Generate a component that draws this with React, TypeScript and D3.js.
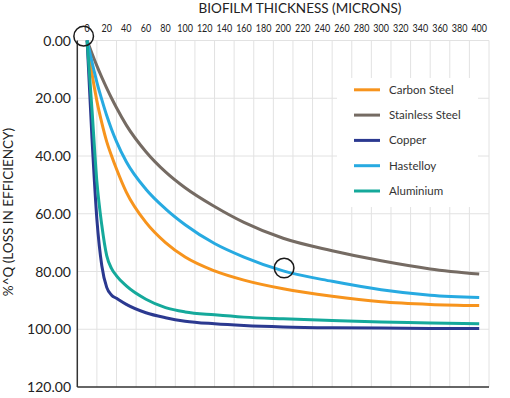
import React, {useEffect, useRef} from 'react'
import * as d3 from 'd3'

// biofilm thickness (microns), shared by every series
const thickness = [0, 5, 10, 15, 20, 25, 30, 40, 60, 80, 100, 130, 160, 200, 250, 300, 350, 400];

const carbonSteel    = [0, 11.5, 21, 28.5, 35, 40, 44.5, 52.5, 63, 70, 75, 79.8, 83, 86, 88.6, 90.5, 91.4, 91.8];
const stainlessSteel = [0, 4.5, 8.8, 12.8, 16.5, 20, 23.3, 29.3, 38.5, 45.5, 51, 57.5, 63, 68.5, 72.8, 76.3, 79.1, 80.9];
const copper         = [0, 34, 62, 78, 85.5, 88.2, 89.3, 91.4, 94.3, 96, 97.2, 98.1, 98.7, 99.2, 99.5, 99.6, 99.7, 99.7];
const hastelloy      = [0, 7.5, 14.5, 20.5, 26, 30.8, 35, 42, 51.5, 58.3, 63.8, 70.3, 75, 79.8, 83.4, 86.3, 88.2, 89];
const aluminium      = [0, 24, 49, 64, 74.5, 79, 81.5, 85, 89.6, 92.5, 94, 95, 95.8, 96.4, 97, 97.5, 97.8, 98.1];

const seriesNames  = ['Carbon Steel', 'Stainless Steel', 'Copper', 'Hastelloy', 'Aluminium'];
const seriesValues = [carbonSteel, stainlessSteel, copper, hastelloy, aluminium];
const seriesColors = ['#F7941D', '#756B63', '#2B3990', '#27AAE1', '#15A99B'];

const xTicks = d3.range(0, 401, 20);
const yTicks = [0, 20, 40, 60, 80, 100, 120];

// points picked out with a ring in the original
const marked = [{x: -3.5, y: -1.5}, {x: 201, y: 78.8}];

const W = 510, H = 398;
const FONT = 'Lato, Roboto, sans-serif';

export default function App() {
  const ref = useRef<SVGSVGElement>(null);

  useEffect(() => {
    const svg = d3.select(ref.current);
    svg.selectAll('*').remove();

    // labels sit between grid lines, like an excel category axis
    const x = d3.scaleLinear().domain([-10, 410]).range([77.3, 489]);
    const y = d3.scaleLinear().domain([0, 120]).range([40.5, 387]);

    const grid = svg.append('g').attr('stroke', '#e2e2e2').attr('stroke-width', 1);
    grid.selectAll('line.v')
      .data(d3.range(10, 411, 20))
      .join('line')
      .attr('class', 'v')
      .attr('x1', d => x(d)).attr('x2', d => x(d))
      .attr('y1', y(0)).attr('y2', y(120));
    grid.selectAll('line.h')
      .data(yTicks.slice(0, -1))
      .join('line')
      .attr('class', 'h')
      .attr('x1', x(-10)).attr('x2', x(410))
      .attr('y1', d => y(d)).attr('y2', d => y(d));

    // legend background hides the grid
    svg.append('rect')
      .attr('x', 337).attr('y', 78).attr('width', 141).attr('height', 129)
      .attr('fill', '#fff');

    // axes lines
    svg.append('line')
      .attr('x1', x(-10)).attr('x2', x(-10))
      .attr('y1', y(0)).attr('y2', y(120))
      .attr('stroke', '#333').attr('stroke-width', 1.5);
    svg.append('line')
      .attr('x1', x(-10)).attr('x2', x(410))
      .attr('y1', y(120)).attr('y2', y(120))
      .attr('stroke', '#333').attr('stroke-width', 1.5);

    // narrow digits so the labels keep a gap between them
    svg.append('g')
      .selectAll('text')
      .data(xTicks)
      .join('text')
      .attr('x', d => x(d))
      .attr('y', 32)
      .attr('text-anchor', 'middle')
      .attr('font-family', FONT)
      .attr('font-size', 11.2)
      .attr('fill', '#222')
      .attr('textLength', d => String(d).length * 5.2)
      .attr('lengthAdjust', 'spacingAndGlyphs')
      .text(d => d);

    svg.append('g')
      .selectAll('text')
      .data(yTicks)
      .join('text')
      .attr('x', 71)
      .attr('y', d => y(d) + 5)
      .attr('text-anchor', 'end')
      .attr('font-family', FONT)
      .attr('font-size', 14)
      .attr('fill', '#222')
      .text(d => d.toFixed(2));

    svg.append('text')
      .attr('x', 300).attr('y', 12.5)
      .attr('text-anchor', 'middle')
      .attr('font-family', FONT)
      .attr('font-size', 13.5)
      .attr('fill', '#222')
      .text('BIOFILM THICKNESS (MICRONS)');

    svg.append('text')
      .attr('transform', 'translate(13,' + 212 + ') rotate(-90)')
      .attr('text-anchor', 'middle')
      .attr('font-family', FONT)
      .attr('font-size', 13.5)
      .attr('fill', '#222')
      .text('%^Q (LOSS IN EFFICIENCY)');

    const line = d3.line<number>()
      .x((d, i) => x(thickness[i]))
      .y(d => y(d))
      .curve(d3.curveMonotoneX);

    svg.append('g')
      .selectAll('path')
      .data(seriesValues)
      .join('path')
      .attr('d', d => line(d))
      .attr('fill', 'none')
      .attr('stroke', (d, i) => seriesColors[i])
      .attr('stroke-width', 3);

    const legend = svg.append('g')
      .selectAll('g')
      .data(seriesNames)
      .join('g')
      .attr('transform', (d, i) => 'translate(354,' + (89.8 + i * 25.3) + ')');
    legend.append('line')
      .attr('x1', 0).attr('x2', 26)
      .attr('stroke', (d, i) => seriesColors[i])
      .attr('stroke-width', 3);
    legend.append('text')
      .attr('x', 35).attr('y', 4)
      .attr('font-family', FONT)
      .attr('font-size', 11.5)
      .attr('fill', '#333')
      .text(d => d);

    svg.append('g')
      .selectAll('circle')
      .data(marked)
      .join('circle')
      .attr('cx', d => x(d.x))
      .attr('cy', d => y(d.y))
      .attr('r', 9.8)
      .attr('fill', 'none')
      .attr('stroke', '#1a1a1a')
      .attr('stroke-width', 1.5);
  }, []);

  return (
    <div style={{position: 'absolute', left: 0, top: 0}}>
      <svg ref={ref} width={W} height={H} style={{display: 'block', background: '#fff'}}></svg>
    </div>
  );
}
